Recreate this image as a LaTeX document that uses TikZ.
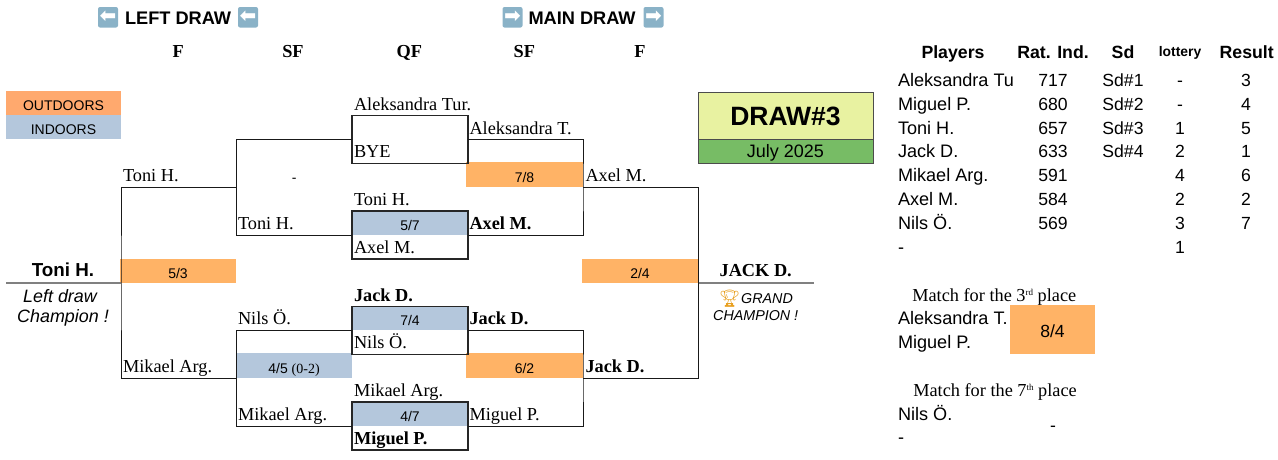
\documentclass[tikz,border=0pt]{standalone}
\usepackage{fontspec}
\setmainfont{Liberation Serif}
\setsansfont{Liberation Sans}
\newfontfamily\symfont{DejaVu Sans}
\newfontfamily\emojifont{Noto Emoji}
\definecolor{outcol}{HTML}{FFB366}
\definecolor{legcol}{HTML}{FFA96E}
\definecolor{incol}{HTML}{B4C7DC}
\definecolor{titlecol}{HTML}{E8F2A1}
\definecolor{datecol}{HTML}{77BC65}
\definecolor{emojicol}{HTML}{8AB2C7}
\definecolor{trophycol}{HTML}{E8A020}
\newcommand{\ordsup}[1]{\raisebox{6.5pt}{\fontsize{9}{9}\selectfont #1}}
\tikzset{
  every node/.style={inner sep=0pt,outer sep=0pt},
  player/.style={font=\fontsize{18.3}{20}\selectfont,anchor=base west},
  winner/.style={font=\fontsize{18.3}{20}\selectfont\bfseries,anchor=base west},
  roundhead/.style={font=\fontsize{18.3}{20}\selectfont\bfseries,anchor=base},
  info/.style={font=\sffamily\fontsize{18.1}{20}\selectfont,anchor=base west},
  cinfo/.style={font=\sffamily\fontsize{17.6}{20}\selectfont,anchor=base},
  sanshead/.style={font=\sffamily\bfseries\fontsize{17.7}{20}\selectfont,anchor=base},
  drawhead/.style={font=\sffamily\bfseries\fontsize{18.2}{20}\selectfont,anchor=base west},
  scorecell/.style={anchor=north west,font=\sffamily\fontsize{14}{16}\selectfont,minimum width=116pt,text height=20pt,text depth=4.5pt},
  outcell/.style={scorecell,fill=outcol},
  incell/.style={scorecell,fill=incol},
  qfbox/.style={draw=black!85,line width=1.1pt,minimum width=116pt,minimum height=48pt,anchor=north west},
  link/.style={line width=1pt,black!90},
  champline/.style={line width=1.3pt,black!50},
  champtext/.style={anchor=base,font=\sffamily\itshape\fontsize{17.9}{20}\selectfont},
  grandtext/.style={font=\sffamily\itshape\fontsize{14.3}{16}\selectfont},
  emojibox/.style={anchor=north west,fill=emojicol,rounded corners=2pt,minimum width=20pt,minimum height=20.5pt,text height=10pt,text depth=0pt,text=white,font=\symfont\bfseries\fontsize{20}{20}\selectfont}
}
\begin{document}
\begin{tikzpicture}[x=1pt,y=-1pt]
    \useasboundingbox (0,0) rectangle (1278,459);

    % Colour cells
    \node[outcell,fill=legcol,minimum width=115pt,text height=19.5pt,text depth=5pt] (legout) at (6,91) {OUTDOORS};
    \node[incell,minimum width=115pt,text height=19pt,text depth=5pt] (legin) at (6,115) {INDOORS};
    \node[outcell] (mleftf) at (120,258.5) {5/3};
    \node[outcell] (mrightf) at (582,258.5) {2/4};
    \node[outcell,minimum width=117pt] (msfa) at (466,162) {7/8};
    \node[outcell,minimum width=117pt] (msfb) at (466,353) {6/2};
    \node[incell,text height=20.5pt] (mlsf) at (236,353) {4/5 {\rmfamily(0-2)}};
    \node[incell,text height=19.5pt] (mqfa) at (352,211) {5/7};
    \node[incell,text height=18.5pt] (mqfb) at (352,306.5) {7/4};
    \node[incell,text height=19pt] (mqfc) at (352,402) {4/7};

    % QF boxes
    \node[qfbox] (qfa) at (352,115.5) {};
    \node[qfbox] (qfb) at (352,211) {};
    \node[qfbox] (qfc) at (352,306.5) {};
    \node[qfbox] (qfd) at (352,402) {};

    \coordinate (sfla) at (236.5,187.5);
    \coordinate (sflb) at (236.5,378);
    \coordinate (sfra) at (583,187.5);
    \coordinate (sfrb) at (583,378);
    \coordinate (fl) at (121,283);
    \coordinate (fr) at (698.5,283);
    \coordinate (champl) at (6,283);
    \coordinate (champr) at (814,283);

    % Bracket
    \draw[link] (qfa.west) -| (sfla) |- (qfb.west);
    \draw[link] (qfc.west) -| (sflb) |- (qfd.west);
    \draw[link] (qfa.east) -| (sfra) |- (qfb.east);
    \draw[link] (qfc.east) -| (sfrb) |- (qfd.east);
    \draw[link] (sfla) -| (fl) |- (sflb);
    \draw[link] (sfra) -| (fr) |- (sfrb);
    \draw[champline] (fl) -- (champl);
    \draw[champline] (fr) -- (champr);

    % Titles
    \node[emojibox] (arla) at (98,7) {⬅};
    \node[drawhead] (titleleft) at (125,24) {LEFT DRAW};
    \node[emojibox] (arlb) at (238,7) {⬅};
    \node[emojibox] (arra) at (502.5,7) {➡};
    \node[drawhead] (titlemain) at (528.5,24) {MAIN DRAW};
    \node[emojibox] (arrb) at (643.5,7) {➡};

    \node[roundhead] (rfl) at (178.3,57.3) {F};
    \node[roundhead] (rsfl) at (293,57.3) {SF};
    \node[roundhead] (rqf) at (409.3,57.3) {QF};
    \node[roundhead] (rsfr) at (524.3,57.3) {SF};
    \node[roundhead] (rfr) at (640,57.3) {F};

    % Left draw names
    \node[player] (na) at (123,181) {Toni H.};
    \node[player] (nb) at (123,372) {Mikael Arg.};
    \node[player] (nc) at (238,229) {Toni H.};
    \node[player] (nd) at (238,324) {Nils Ö.};
    \node[player] (ne) at (238,420) {Mikael Arg.};
    \node[anchor=base,font=\sffamily\fontsize{14}{16}\selectfont] (nf) at (294.3,182) {-};

    % QF names
    \node[player] (qa) at (354,110) {Aleksandra Tur.};
    \node[player] (qb) at (354,157) {BYE};
    \node[player] (qc) at (354,205) {Toni H.};
    \node[player] (qd) at (354,253) {Axel M.};
    \node[winner] (qe) at (354,301) {Jack D.};
    \node[player] (qf) at (354,348) {Nils Ö.};
    \node[player] (qg) at (354,396) {Mikael Arg.};
    \node[winner] (qh) at (354,444) {Miguel P.};

    % Main draw names
    \node[player] (ra) at (469.5,134) {Aleksandra T.};
    \node[winner] (rb) at (469.5,229) {Axel M.};
    \node[winner] (rc) at (469.5,324) {Jack D.};
    \node[player] (rd) at (469.5,420) {Miguel P.};
    \node[player] (re) at (585.5,181) {Axel M.};
    \node[winner] (rf) at (585.5,372) {Jack D.};

    % Champions
    \node[sanshead,font=\sffamily\bfseries\fontsize{18.8}{20}\selectfont] (wl) at (63,276.7) {Toni H.};
    \node[champtext] (wla) at (60,302) {Left draw};
    \node[champtext] (wlb) at (63,322.7) {Champion !};
    \node[roundhead] (wr) at (755.7,276.7) {JACK D.};
    \node[anchor=base east,text=trophycol,font=\emojifont\fontsize{17}{18}\selectfont] (trophy) at (740.5,304) {🏆};
    \node[grandtext,anchor=base west] (wra) at (741.2,303.3) {GRAND};
    \node[grandtext,anchor=base] (wrb) at (755.7,320) {CHAMPION !};

    % Draw title
    \node[draw=black!70,line width=1pt,fill=titlecol,anchor=north west,minimum width=174.5pt,minimum height=47.5pt] (drawbox) at (698.5,92) {};
    \node[draw=black!70,line width=1pt,fill=datecol,anchor=north west,minimum width=174.5pt,minimum height=24pt] (datebox) at (698.5,139.5) {};
    \node[anchor=base,font=\sffamily\bfseries\fontsize{26.5}{28}\selectfont] (drawtxt) at (785.5,125) {DRAW\#3};
    \node[cinfo,font=\sffamily\fontsize{18}{20}\selectfont] (datetxt) at (785.5,157.6) {July 2025};

    % Table
    \node[sanshead] (hp) at (953,58.3) {Players};
    \node[sanshead] (hr) at (1053,58.3) {Rat. Ind.};
    \node[sanshead] (hs) at (1123,58.3) {Sd};
    \node[sanshead,font=\sffamily\bfseries\fontsize{13.9}{16}\selectfont] (hl) at (1180,56) {lottery};
    \node[sanshead] (hn) at (1246.7,58.3) {Result};

    \begin{scope}
      \clip (890,60) rectangle (1012,95);
      \node[info] (pa) at (898,86) {Aleksandra Tu};
    \end{scope}
    \node[info] (pb) at (898,110) {Miguel P.};
    \node[info] (pc) at (898,134) {Toni H.};
    \node[info] (pd) at (898,157.5) {Jack D.};
    \node[info] (pe) at (898,181.5) {Mikael Arg.};
    \node[info] (pf) at (898,205.5) {Axel M.};
    \node[info] (pg) at (898,229) {Nils Ö.};
    \node[info] (ph) at (898,253) {-};

    \node[cinfo] (ia) at (1053,86) {717};
    \node[cinfo] (ib) at (1053,110) {680};
    \node[cinfo] (ic) at (1053,134) {657};
    \node[cinfo] (id) at (1053,157.5) {633};
    \node[cinfo] (ie) at (1053,181.5) {591};
    \node[cinfo] (if) at (1053,205.5) {584};
    \node[cinfo] (ig) at (1053,229) {569};

    \node[cinfo] (sa) at (1123,86) {Sd\#1};
    \node[cinfo] (sb) at (1123,110) {Sd\#2};
    \node[cinfo] (sc) at (1123,134) {Sd\#3};
    \node[cinfo] (sd) at (1123,157.5) {Sd\#4};

    \node[cinfo] (la) at (1180,86) {-};
    \node[cinfo] (lb) at (1180,110) {-};
    \node[cinfo] (lc) at (1180,134) {1};
    \node[cinfo] (ld) at (1180,157.5) {2};
    \node[cinfo] (le) at (1180,181.5) {4};
    \node[cinfo] (lf) at (1180,205.5) {2};
    \node[cinfo] (lg) at (1180,229) {3};
    \node[cinfo] (lh) at (1180,253) {1};

    \node[cinfo] (ta) at (1246,86) {3};
    \node[cinfo] (tb) at (1246,110) {4};
    \node[cinfo] (tc) at (1246,134) {5};
    \node[cinfo] (td) at (1246,157.5) {1};
    \node[cinfo] (te) at (1246,181.5) {6};
    \node[cinfo] (tf) at (1246,205.5) {2};
    \node[cinfo] (tg) at (1246,229) {7};

    % Placement matches
    \node[player] (third) at (912.3,301.7) {Match for the 3\ordsup{rd} place};
    \node[info] (thirda) at (898,324) {Aleksandra T.};
    \node[info] (thirdb) at (898,348) {Miguel P.};
    \node[fill=outcol,anchor=north west,minimum width=85pt,minimum height=49pt] (thirdbox) at (1010,305) {};
    \node[cinfo] (thirdres) at (1052.5,337.3) {8/4};
    \node[player] (seventh) at (913.3,396.7) {Match for the 7\ordsup{th} place};
    \node[info] (seventha) at (898,420) {Nils Ö.};
    \node[info] (seventhb) at (898,443) {-};
    \node[cinfo] (seventhres) at (1053,431) {-};
\end{tikzpicture}
\end{document}
